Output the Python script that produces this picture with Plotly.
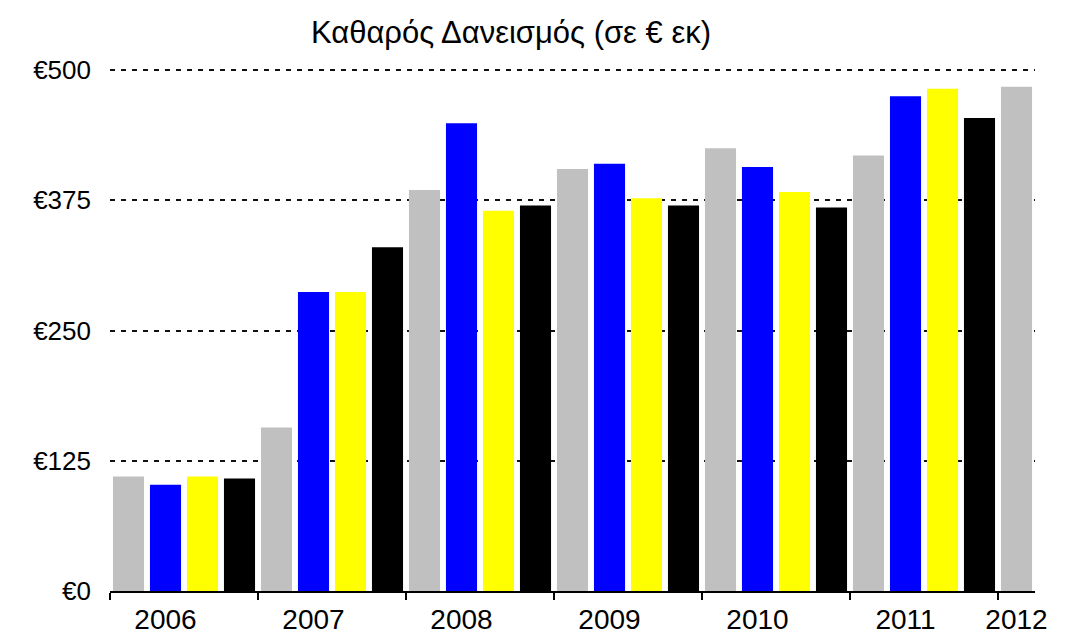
import plotly.graph_objects as go

years = ["2006", "2007", "2008", "2009", "2010", "2011", "2012"]
gray = [110, 157, 385, 405, 425, 418, 484]
blue = [102, 287, 449, 410, 407, 475]
yellow = [110, 287, 365, 377, 383, 482]
black = [108, 330, 370, 370, 368, 454]
series = [
    ("Α' τρίμηνο", gray, "#c0c0c0"),
    ("Β' τρίμηνο", blue, "#0000ff"),
    ("Γ' τρίμηνο", yellow, "#ffff00"),
    ("Δ' τρίμηνο", black, "#000000"),
]
y_ticks = [0, 125, 250, 375, 500]
y_labels = ["€0", "€125", "€250", "€375", "€500"]
title = "Καθαρός Δανεισμός (σε € εκ)"

FONT = "Liberation Sans, Arial, sans-serif"

fig = go.Figure()
for q, (name, vals, color) in enumerate(series):
    xs = [i * 4 + q for i in range(len(vals))]
    fig.add_trace(go.Bar(x=xs, y=vals, name=name, width=0.84,
                         marker=dict(color=color, line=dict(width=0))))

n_bars = (len(years) - 1) * 4 + 1
label_pos = [i * 4 + 1 for i in range(len(years) - 1)] + [(len(years) - 1) * 4]
bounds = [i * 4 - 0.5 for i in range(len(years))]

fig.update_layout(
    width=1067, height=636,
    margin=dict(l=110, r=32, t=68, b=45),
    paper_bgcolor="white", plot_bgcolor="white",
    showlegend=False, barmode="overlay",
    title=dict(text=title, x=(511 - 110) / 925, xanchor="center", xref="paper",
               y=1 - 32 / 636, yanchor="middle", yref="container",
               font=dict(family=FONT, size=31, color="black")),
    font=dict(family=FONT, color="black"),
    xaxis=dict(range=[-0.5, n_bars - 0.5], tickmode="array", tickvals=label_pos,
               ticktext=years, ticks="", showgrid=False, zeroline=False,
               showline=True, linecolor="black", linewidth=2, automargin=False,
               tickfont=dict(family=FONT, size=28, color="black"),
               ticklabelstandoff=2,
               minor=dict(tickmode="array", tickvals=bounds, ticks="outside",
                          ticklen=7, tickwidth=1.5, tickcolor="black", showgrid=False)),
    xaxis2=dict(overlaying="x", anchor="y", side="bottom", matches="x",
                showticklabels=False, ticks="", showgrid=False, zeroline=False,
                showline=False, automargin=False,
                minor=dict(tickmode="array", tickvals=bounds, ticks="inside",
                           ticklen=6, tickwidth=1.5, tickcolor="black", showgrid=False)),
    yaxis=dict(range=[0, 502], tickmode="array", tickvals=y_ticks, ticktext=y_labels,
               ticks="", showline=False, zeroline=False, automargin=False,
               showgrid=True, gridcolor="#111111", gridwidth=2.4, griddash="5px,6px",
               tickfont=dict(family=FONT, size=26, color="black"),
               ticklabelstandoff=18),
)

fig.write_html("out.html", config={"displayModeBar": False},
               post_script="document.body.style.margin='0';document.body.style.overflow='hidden';")
